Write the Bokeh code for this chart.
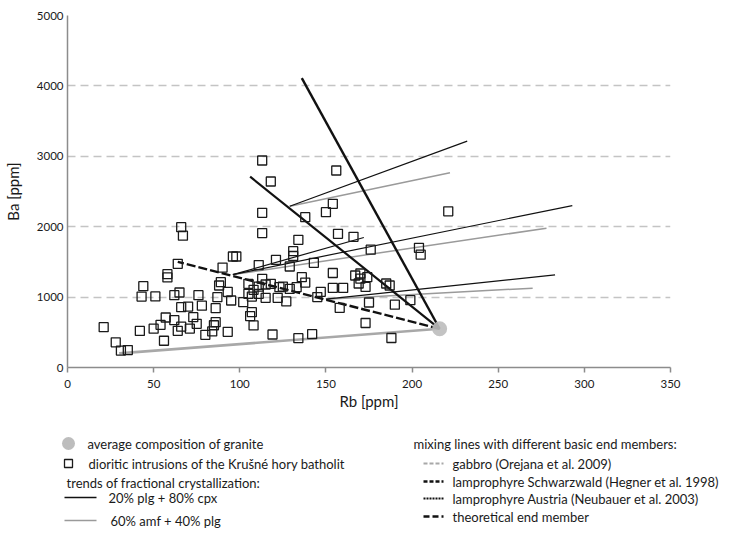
from bokeh.plotting import figure
from bokeh.layouts import column
from bokeh.models import Range1d, FixedTicker
from bokeh.core.properties import value
from bokeh.embed import file_html
from bokeh.resources import INLINE

# ---------------- data ----------------
# dioritic intrusions of the Krušné hory batholith (Rb ppm, Ba ppm)
diorite_rb = [21, 28, 31, 35, 42, 44, 43, 51, 50, 54, 56, 57, 58, 58, 62, 62, 64, 65, 66, 67,
              66, 66, 64, 70, 71, 73, 75, 76, 78, 80, 84, 85, 86, 86, 87, 89, 90, 88, 93, 93,
              95, 96, 98,
              102, 105, 105, 106, 107, 108, 107, 111, 108, 113, 118, 113, 113, 111, 113, 115,
              118, 115, 122, 123, 125, 127, 129, 133, 119, 121, 129, 131, 131, 134, 138, 136,
              138, 134, 142, 143, 145, 147, 111,
              156, 154, 150, 157, 166, 176, 204, 205, 221, 154, 167, 170, 170, 174, 169, 173,
              185, 187, 154, 160, 158, 175, 190, 199, 173, 188]
diorite_ba = [573, 357, 240, 248, 520, 1155, 1008, 1010, 552, 606, 380, 710, 1325, 1280, 672,
              1028, 521, 1065, 1993, 1873, 857, 580, 1473, 866, 553, 715, 620, 1028, 878, 464,
              513, 600, 644, 842, 999, 1212, 1420, 1165, 1075, 507, 952, 1577, 1577,
              928, 1047, 1189, 730, 786, 597, 1008, 1047, 1104, 2940, 2642, 2197, 1910, 1455,
              1260, 1179, 1189, 990, 990, 1141, 1150, 938, 1118, 1141, 469, 1530, 1435, 1652,
              1584, 1814, 2135, 1283, 1207, 417, 473, 1487, 1000, 1075, 1150,
              2798, 2325, 2206, 1899, 1856, 1674, 1700, 1603, 2218, 1342, 1307, 1335, 1262,
              1283, 1193, 1145, 1193, 1165, 1130, 1130, 848, 923, 893, 957, 632, 419]

# average composition of granite
granite_rb = [216]
granite_ba = [550]

# fractional crystallization trends: start points, ends of "20% plg + 80% cpx" (black),
# ends of "60% amf + 40% plg" (gray)
trend_start_rb = [129, 96, 150]
trend_start_ba = [2290, 1320, 970]
cpx_end_rb = [232, 293, 283]
cpx_end_ba = [3215, 2300, 1317]
amf_end_rb = [222, 278, 270]
amf_end_ba = [2766, 1979, 1127]
extra_end_rb = [172]
extra_end_ba = [1847]

# mixing lines: basic end members (line from granite to end member)
gabbro_rb, gabbro_ba = [30], [200]
schwarzwald_rb, schwarzwald_ba = [136], [4110]
austria_rb, austria_ba = [106], [2710]
theoretical_rb, theoretical_ba = [64], [1500]

x_ticks = [0, 50, 100, 150, 200, 250, 300, 350]
y_ticks = [0, 1000, 2000, 3000, 4000, 5000]

FONT = "Lato"
TXT = "#1a1a1a"
AXC = "#8c8c8c"

# ---------------- main chart ----------------
p = figure(width=749, height=420, output_backend="svg", toolbar_location=None,
           x_range=Range1d(0, 350), y_range=Range1d(0, 5000),
           min_border_left=66, min_border_right=79, min_border_top=15, min_border_bottom=53)
p.outline_line_color = None
p.xgrid.grid_line_color = None
p.ygrid.grid_line_color = "#c4c4c4"
p.ygrid.grid_line_dash = "8 5"
p.ygrid.grid_line_width = 1.5
p.ygrid.ticker = FixedTicker(ticks=y_ticks)

p.xaxis.ticker = FixedTicker(ticks=x_ticks)
p.yaxis.ticker = FixedTicker(ticks=y_ticks)
for ax in (p.xaxis[0], p.yaxis[0]):
    ax.axis_line_color = AXC
    ax.axis_line_width = 1.5
    ax.major_tick_line_color = AXC
    ax.major_tick_line_width = 1.5
    ax.minor_tick_line_color = None
    ax.major_label_text_font = FONT
    ax.major_label_text_font_size = "11.5px"
    ax.major_label_text_color = TXT
    ax.axis_label_text_font = FONT
    ax.axis_label_text_font_size = "15px"
    ax.axis_label_text_font_style = "normal"
    ax.axis_label_text_color = TXT
p.xaxis.major_tick_out = 5
p.xaxis.major_tick_in = 0
p.xaxis.major_label_standoff = 7
p.xaxis.axis_label = "Rb [ppm]"
p.xaxis.axis_label_standoff = 1
p.yaxis.major_tick_out = 0
p.yaxis.major_tick_in = 0
p.yaxis.major_label_standoff = 4
p.yaxis.axis_label = "Ba [ppm]"
p.yaxis.axis_label_standoff = 12

# fractional crystallization trends
p.segment(x0=trend_start_rb, y0=trend_start_ba, x1=amf_end_rb, y1=amf_end_ba,
          line_color="#9a9a9a", line_width=1.5)
p.segment(x0=trend_start_rb, y0=trend_start_ba, x1=cpx_end_rb, y1=cpx_end_ba,
          line_color="#111111", line_width=1.2)
p.segment(x0=trend_start_rb[1:2], y0=trend_start_ba[1:2], x1=extra_end_rb, y1=extra_end_ba,
          line_color="#111111", line_width=1.2)

# mixing lines
g = (granite_rb[0], granite_ba[0])
p.segment(x0=[g[0]], y0=[g[1]], x1=gabbro_rb, y1=gabbro_ba,
          line_color="#a8a8a8", line_width=2.6)
p.segment(x0=[g[0]], y0=[g[1]], x1=schwarzwald_rb, y1=schwarzwald_ba,
          line_color="#111111", line_width=2.4)
p.segment(x0=[g[0]], y0=[g[1]], x1=austria_rb, y1=austria_ba,
          line_color="#111111", line_width=2.2)
p.segment(x0=[g[0]], y0=[g[1]], x1=theoretical_rb, y1=theoretical_ba,
          line_color="#111111", line_width=2.4, line_dash="9 3")

# data points
p.scatter(diorite_rb, diorite_ba, marker="square", size=9, fill_color="white",
          fill_alpha=0.0, line_color="#1a1a1a", line_width=1.3)
p.scatter(granite_rb, granite_ba, marker="circle", size=15, fill_color="#bcbcbc",
          line_color=None, fill_alpha=0.9)

# ---------------- legend (drawn in its own pixel-space panel) ----------------
L = figure(width=749, height=132, output_backend="svg", toolbar_location=None,
           x_range=Range1d(0, 749), y_range=Range1d(132, 0),
           min_border=0, min_border_left=0, min_border_right=0,
           min_border_top=0, min_border_bottom=0)
L.axis.visible = False
L.grid.visible = False
L.outline_line_color = None
for fig in (p, L):
    try:
        fig.frame_align = False
    except Exception:
        pass

off = 420
L.scatter([68], [443 - off], marker="circle", size=13, fill_color="#bdbdbd", line_color=None)
L.scatter([68], [463 - off], marker="square", size=8, fill_color="white",
          line_color="#1a1a1a", line_width=1.3)
L.segment(x0=[64], y0=[497 - off], x1=[96], y1=[497 - off], line_color="#111111", line_width=1.3)
L.segment(x0=[64], y0=[520 - off], x1=[96], y1=[520 - off], line_color="#9a9a9a", line_width=1.5)

L.segment(x0=[423], y0=[463 - off], x1=[443], y1=[463 - off], line_color="#a8a8a8",
          line_width=2.2, line_dash="4 2")
L.segment(x0=[423], y0=[481 - off], x1=[443], y1=[481 - off], line_color="#111111",
          line_width=2.4, line_dash="4 2")
L.segment(x0=[423], y0=[498 - off], x1=[443], y1=[498 - off], line_color="#111111",
          line_width=1.8, line_dash="2 1")
L.segment(x0=[423], y0=[516 - off], x1=[443], y1=[516 - off], line_color="#111111",
          line_width=2.4, line_dash="6 3")

leg_x = [87, 88, 66, 108, 110, 413, 452, 452, 452, 452]
leg_y = [443, 463, 482, 497, 520, 443, 463, 481, 498, 516]
leg_t = ["average composition of granite",
         "dioritic intrusions of the Krušné hory batholit",
         "trends of fractional crystallization:",
         "20% plg + 80% cpx",
         "60% amf + 40% plg",
         "mixing lines with different basic end members:",
         "gabbro (Orejana et al. 2009)",
         "lamprophyre Schwarzwald (Hegner et al. 1998)",
         "lamprophyre Austria (Neubauer et al. 2003)",
         "theoretical end member"]
L.text(x=leg_x, y=[v - off for v in leg_y], text=leg_t, text_font=value(FONT),
       text_font_size="13px", text_color=TXT, text_baseline="middle", text_align="left")

layout = column(p, L, spacing=0)
open("out.html", "w").write(file_html(layout, INLINE))
